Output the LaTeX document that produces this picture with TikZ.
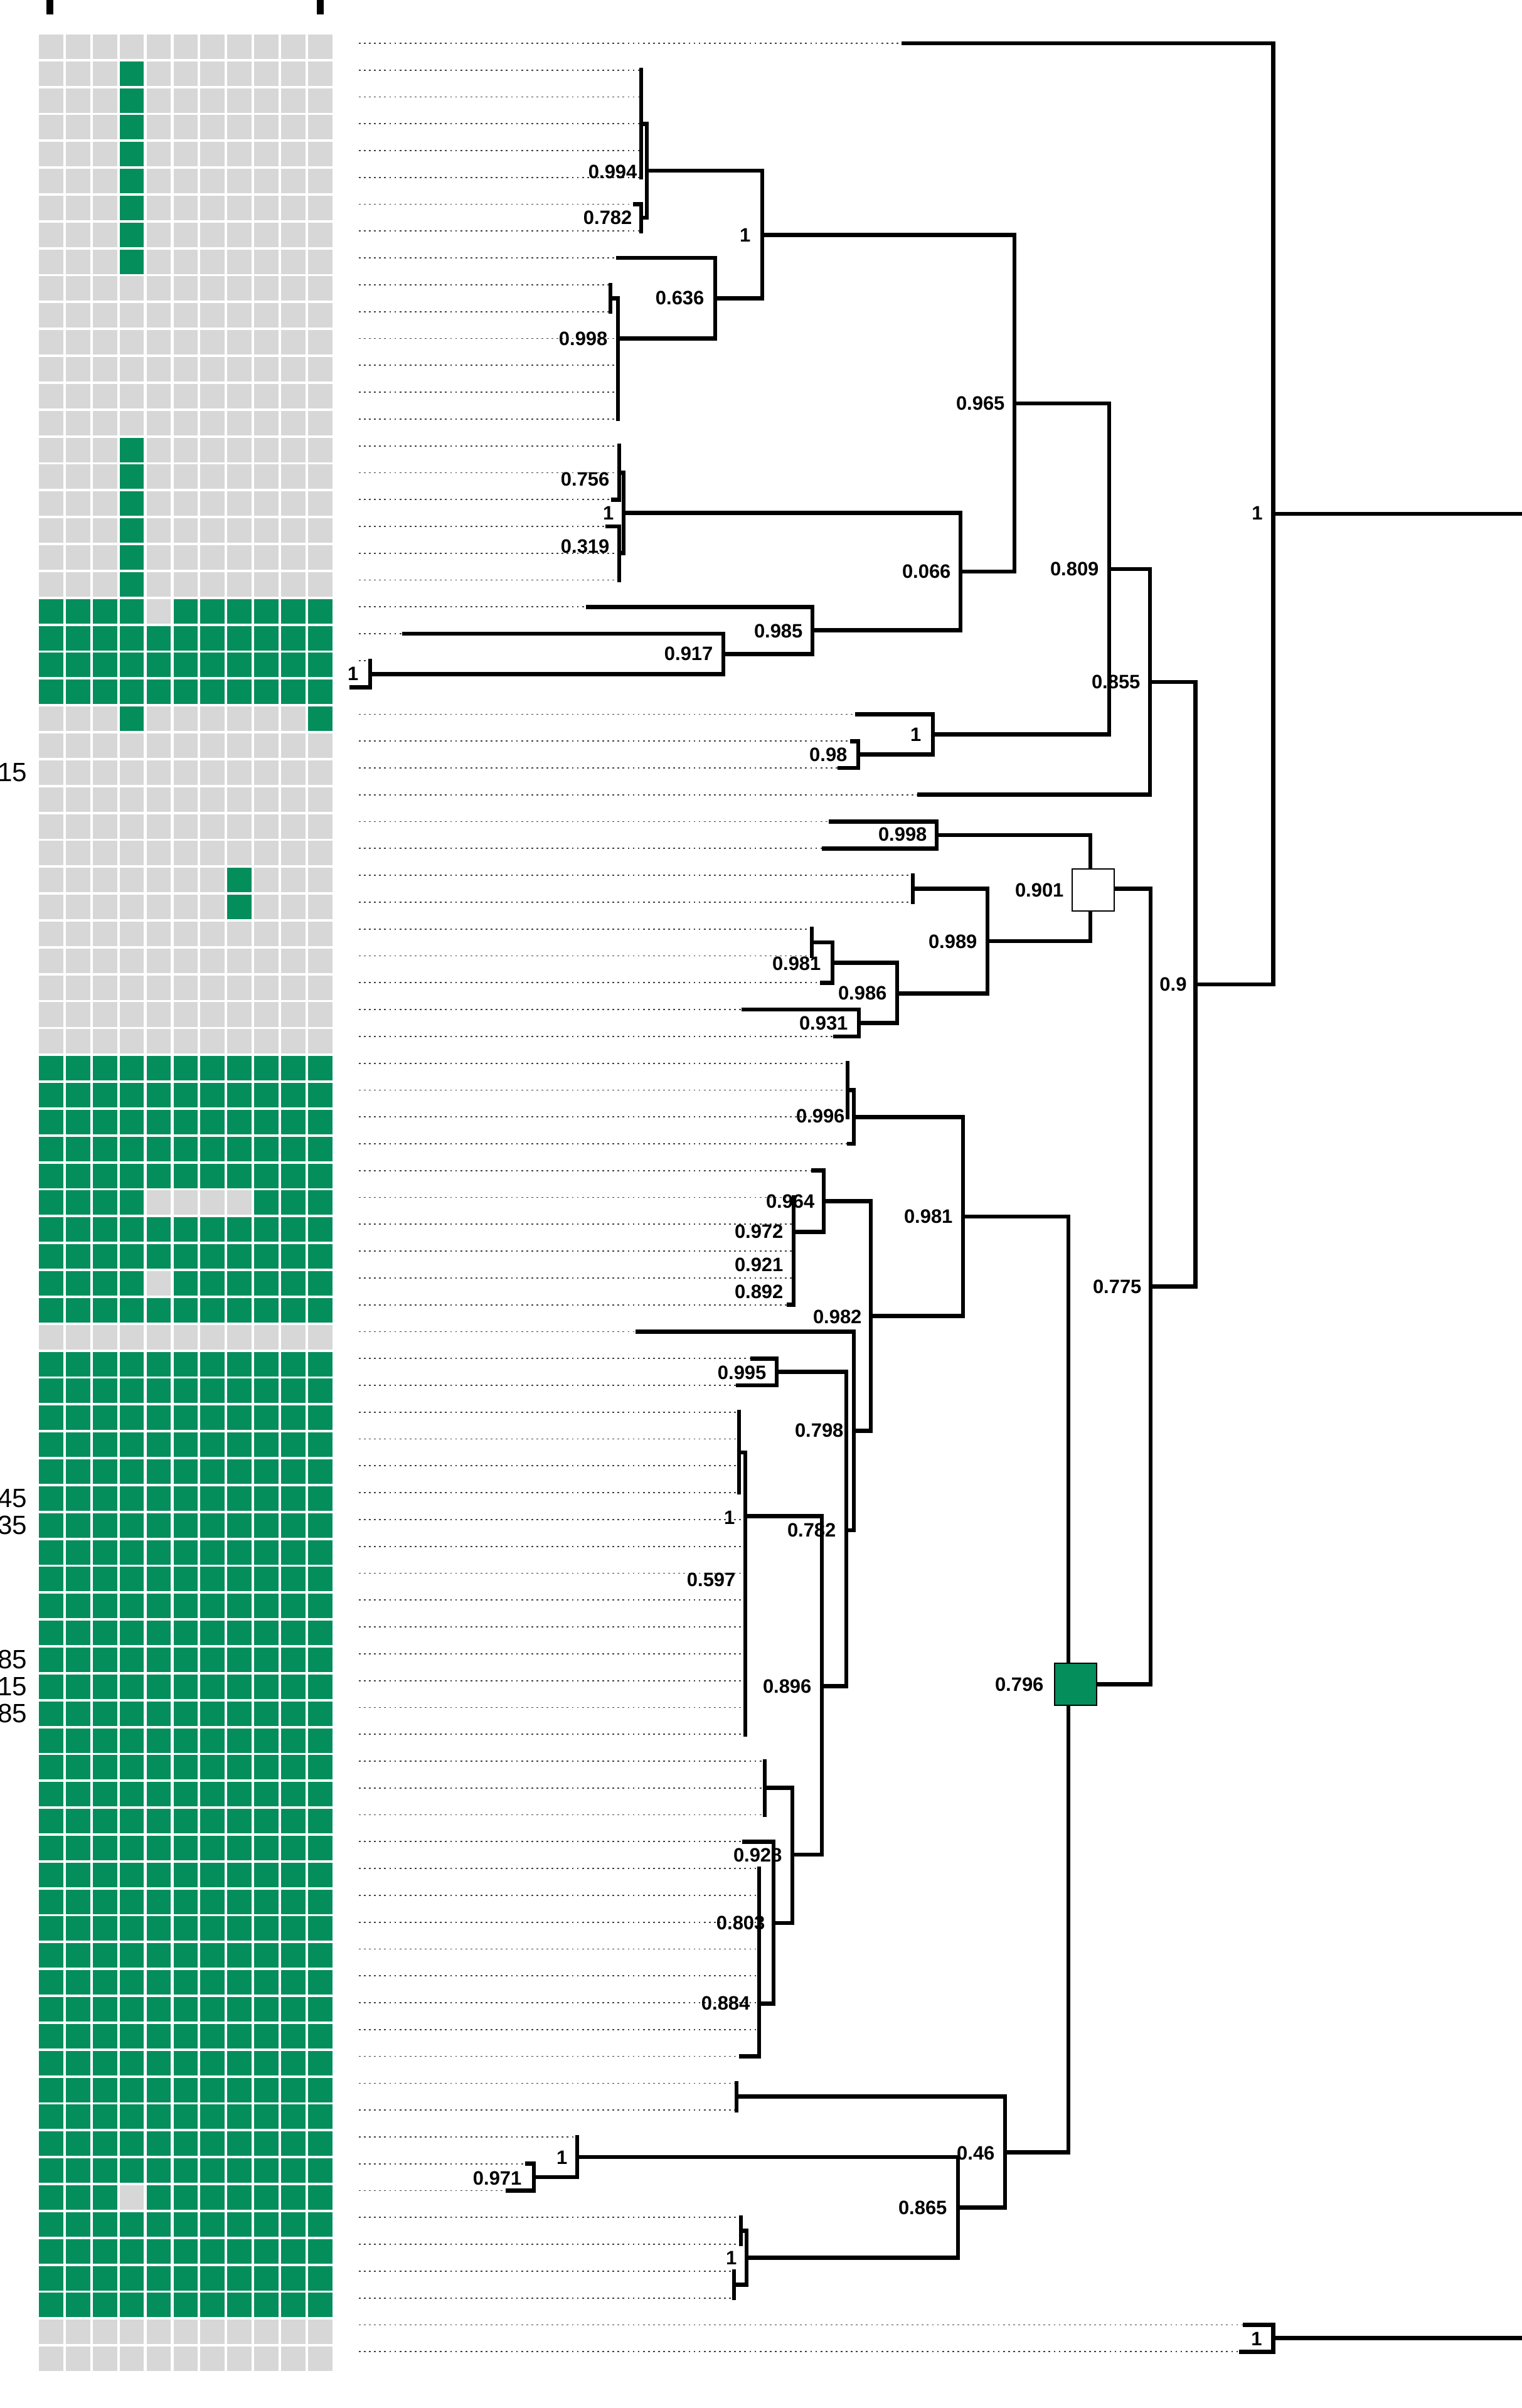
\documentclass[tikz,border=0pt]{standalone}
\usepackage{fontspec}
\setmainfont{Liberation Sans}
\definecolor{heatgreen}{RGB}{4,142,92}
\definecolor{heatgrey}{RGB}{215,215,215}
\newcommand{\heatcell}[3]{\fill[#3] ({62+42.9*(#2-1)},{1.00164*#1-0.331}) rectangle ++(38.7,0.912);}
\begin{document}
\begin{tikzpicture}[x=0.1mm, y=-0.4278cm,
  branch/.style={line width=1.9pt, line cap=rect},
  leafdot/.style={black!75, line width=0.5pt, dash pattern=on 0.8pt off 1.5pt},
  lbl/.style={anchor=east, inner sep=0pt, font=\fontsize{8.8}{10}\selectfont\bfseries},
  sidelbl/.style={anchor=east, inner sep=0pt, font=\fontsize{12}{14}\selectfont},
  nodesq/.style={draw, line width=0.6pt, minimum size=6.7mm, inner sep=0pt}]
\useasboundingbox (0,-0.61) rectangle (2425,89.1);
\fill (74,-0.61) rectangle (85,-0.07);
\fill (505,-0.61) rectangle (516,-0.07);

% heat map
\foreach \r in {1,...,87}
  \foreach \c in {1,...,11}
    {\heatcell{\r}{\c}{heatgrey}}
\foreach \r in {2,3,4,5,6,7,8,9,16,17,18,19,20,21,26}
    {\heatcell{\r}{4}{heatgreen}}
\foreach \r in {23,24,25,39,40,41,42,43,45,46,48,50,51,52,53,54,55,56,57,58,59,60,61,62,63,64,65,66,67,68,69,70,71,72,73,74,75,76,77,78,79,80,82,83,84,85}
  \foreach \c in {1,...,11}
    {\heatcell{\r}{\c}{heatgreen}}
\foreach \c in {1,2,3,4,6,7,8,9,10,11}
    {\heatcell{22}{\c}{heatgreen}\heatcell{47}{\c}{heatgreen}}
\foreach \c in {1,2,3,4,9,10,11}
    {\heatcell{44}{\c}{heatgreen}}
\foreach \c in {1,2,3,5,6,7,8,9,10,11}
    {\heatcell{81}{\c}{heatgreen}}
\heatcell{26}{11}{heatgreen}
\heatcell{32}{8}{heatgreen}
\heatcell{33}{8}{heatgreen}

\foreach \r/\t in {28/15,55/45,56/35,61/85,62/15,63/85}
    \node[sidelbl] (side\r) at (44,{1.00164*\r+0.125}) {\t};

% leaves
\foreach \i/\t in {1/1440,2/1022,3/1022,4/1022,5/1022,6/1022,7/1012,8/1022,9/985,10/973,
  11/973,12/985,13/985,14/985,15/985,16/987,17/987,18/977,19/968,20/987,
  21/987,22/937,23/644,24/590,25/560,26/1366,27/1358,28/1338,29/1465,30/1324,
  31/1313,32/1455,33/1455,34/1294,35/1294,36/1310,37/1185,38/1331,39/1351,40/1351,
  41/1351,42/1353,43/1296,44/1265,45/1265,46/1265,47/1265,48/1257,49/1016,50/1199,
  51/1176,52/1178,53/1178,54/1178,55/1178,56/1188,57/1188,58/1188,59/1188,60/1188,
  61/1188,62/1188,63/1188,64/1188,65/1219,66/1219,67/1219,68/1186,69/1210,70/1210,
  71/1210,72/1210,73/1210,74/1210,75/1210,76/1181,77/1174,78/1174,79/920,80/840,
  81/809,82/1181,83/1181,84/1170,85/1170,86/1984,87/1978}
{
  \coordinate (l\i) at (\t,\i);
  \coordinate (d\i) at (572,\i);
  \draw[leafdot] (d\i) -- (l\i);
}

% inner nodes
\foreach \n/\x/\y in {sa/1022/4,n0782/1022/7.5,n0994/1031/5.75,sb/973/10.5,sc/985/13.5,
  n0998/985/12,n0636/1140/10.5,n1a/1215/8.14,n0756/987/17,n0319/987/20,n1b/994/18.5,
  n1c/590/24.5,n0917/1153/23.75,n0985/1295/22.87,n0066/1531/20.68,n0965/1617/14.42,
  n098/1368/27.5,n1d/1487/26.75,n0809/1768/20.59,n0855/1833/24.8,
  n0998b/1493/30.5,sd/1455/32.5,se/1294/34.5,n0981a/1327/35.25,n0931/1369/37.5,
  n0986/1430/36.4,n0989/1574/34.45,n0901/1738/32.5,
  sf/1351/40,n0996/1361/41,n0892/1265/47.5,n0921/1265/46.5,n0972/1265/45.28,
  n0964/1313/44.14,n0995/1238/50.5,sg/1178/53.5,sh/1188/60.5,n0597/1188/58.25,
  n1e/1188/55.88,si/1219/66,sj/1210/72,n0884/1210/74.03,n0803/1233/71.03,
  n0928/1263/68.48,n0896/1310/62.2,n0782b/1349/56.4,n0798/1361/52.7,
  n0982/1388/48.42,n0981b/1535/44.71,sk/1174/77.5,n0971/851/80.5,n1f/920/79.75,
  sl/1181/82.5,sm/1170/84.5,n1g/1190/83.5,n0865/1527/81.63,n046/1602/79.57,
  n0796/1703/62.14,n0775/1834/47.32,n09/1905/36.06,nroot/2029/18.53,n1h/2029/86.5,
  rootR/2425/18.53,n1hR/2425/86.5}
    \coordinate (\n) at (\x,\y);

% branches
\foreach \p/\c in {sa/l2,sa/l3,sa/l4,sa/l5,sa/l6,n0782/l7,n0782/l8,n0994/sa,n0994/n0782,
  sb/l10,sb/l11,sc/l12,sc/l13,sc/l14,sc/l15,n0998/sb,n0998/sc,n0636/l9,n0636/n0998,
  n1a/n0994,n1a/n0636,n0756/l16,n0756/l17,n0756/l18,n0319/l19,n0319/l20,n0319/l21,
  n1b/n0756,n1b/n0319,n1c/l24,n1c/l25,n0917/l23,n0917/n1c,n0985/l22,n0985/n0917,
  n0066/n1b,n0066/n0985,n0965/n1a,n0965/n0066,n098/l27,n098/l28,n1d/l26,n1d/n098,
  n0809/n0965,n0809/n1d,n0855/n0809,n0855/l29,
  n0998b/l30,n0998b/l31,sd/l32,sd/l33,se/l34,se/l35,n0981a/se,n0981a/l36,
  n0931/l37,n0931/l38,n0986/n0981a,n0986/n0931,n0989/sd,n0989/n0986,
  n0901/n0998b,n0901/n0989,
  sf/l39,sf/l40,sf/l41,n0996/sf,n0996/l42,n0892/l47,n0892/l48,n0921/l45,n0921/l46,
  n0921/n0892,n0972/l44,n0972/n0921,n0964/l43,n0964/n0972,n0995/l50,n0995/l51,
  sg/l52,sg/l53,sg/l54,sg/l55,n0597/l56,n0597/sh,n1e/sg,n1e/n0597,
  si/l65,si/l66,si/l67,n0884/sj,n0884/l76,n0803/l68,n0803/n0884,n0928/si,n0928/n0803,
  n0896/n1e,n0896/n0928,n0782b/n0995,n0782b/n0896,n0798/l49,n0798/n0782b,
  n0982/n0964,n0982/n0798,n0981b/n0996,n0981b/n0982,
  sk/l77,sk/l78,n0971/l80,n0971/l81,n1f/l79,n1f/n0971,sl/l82,sl/l83,sm/l84,sm/l85,
  n1g/sl,n1g/sm,n0865/n1f,n0865/n1g,n046/sk,n046/n0865,
  n0796/n0981b,n0796/n046,n0775/n0901,n0775/n0796,n09/n0855,n09/n0775,
  nroot/l1,nroot/n09,n1h/l86,n1h/l87}
    \draw[branch] (\p) |- (\c);
\foreach \c in {57,...,64}
    \draw[branch] (sh) |- (l\c);
\foreach \c in {69,...,75}
    \draw[branch] (sj) |- (l\c);
\draw[branch] (nroot) -- (rootR);
\draw[branch] (n1h) -- (n1hR);

\node[nodesq, fill=white] (q0901) at (1742,32.55) {};
\node[nodesq, fill=heatgreen] (q0796) at (1714,62.14) {};

% support values
\foreach \n/\x/\y/\v in {a/1016/5.78/0.994,b/1008/7.5/0.782,c/1197/8.15/1,d/1123/10.5/0.636,
  e/969/12/0.998,f/972/17.25/0.756,g/979/18.5/1,h/972/19.74/0.319,i/1602/14.42/0.965,
  j/1516/20.68/0.066,k/1752/20.58/0.809,m/2013/18.51/1,n/1818/24.8/0.855,
  o/1280/22.9/0.985,p/1137/23.75/0.917,q/572/24.5/1,r/1469/26.76/1,s/1351/27.5/0.98,
  t/1478/30.48/0.998,u/1696/32.56/0.901,v/1558/34.47/0.989,w/1309/35.28/0.981,
  x/1414/36.38/0.986,y/1352/37.5/0.931,z/1892/36.06/0.9,aa/1347/40.98/0.996,
  ab/1299/44.14/0.964,ac/1519/44.71/0.981,ad/1249/45.28/0.972,ae/1249/46.5/0.921,
  af/1249/47.51/0.892,ag/1820/47.32/0.775,ah/1374/48.44/0.982,ai/1222/50.53/0.995,
  aj/1345/52.68/0.798,ak/1172/55.93/1,al/1333/56.4/0.782,am/1173/58.25/0.597,
  an/1294/62.22/0.896,ao/1664/62.14/0.796,ap/1247/68.5/0.928,aq/1220/71.03/0.803,
  ar/1196/74.03/0.884,as/1586/79.6/0.46,at/905/79.76/1,au/832/80.53/0.971,
  av/1510/81.65/0.865,aw/1175/83.51/1,ax/2012/86.53/1}
    \node[lbl] (sv\n) at (\x,\y) {\v};
\end{tikzpicture}
\end{document}
